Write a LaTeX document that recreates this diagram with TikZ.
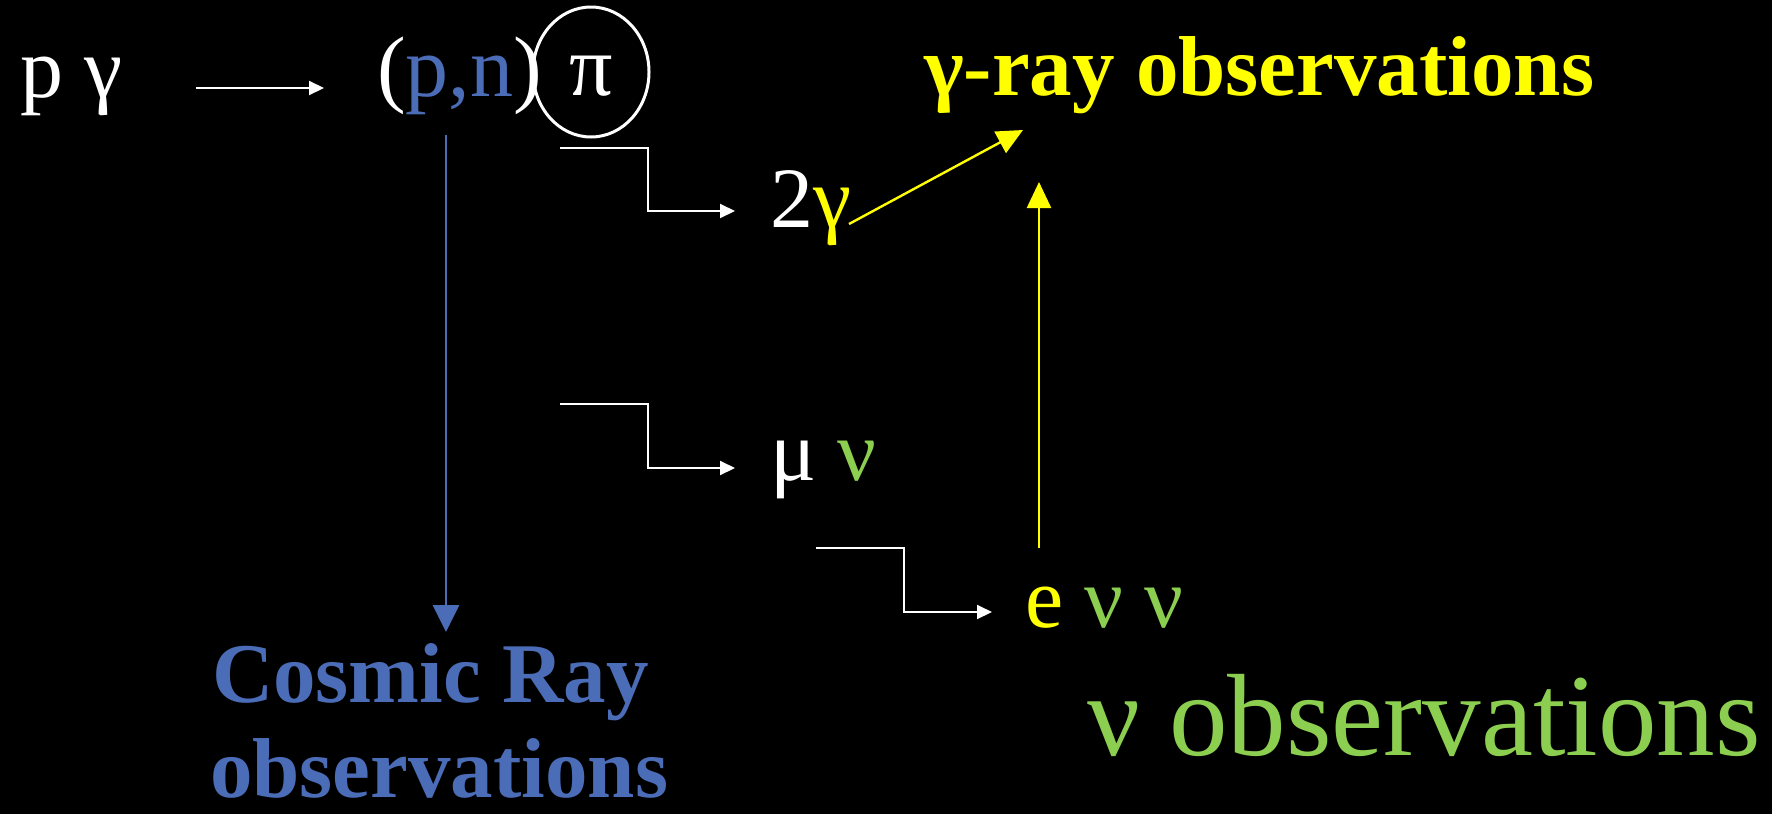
\documentclass[tikz,border=0pt]{standalone}
\usepackage{fontspec}
\setmainfont{Liberation Serif}
\usetikzlibrary{arrows.meta,shapes.geometric}
\definecolor{cblue}{HTML}{4B6CB7}
\definecolor{cgreen}{HTML}{8CCF50}
\definecolor{cyellow}{HTML}{FFFF00}
\begin{document}
\begin{tikzpicture}[x=0.5pt,y=-0.5pt,
  txt/.style={inner sep=0pt,outer sep=0pt,anchor=base west,text=white,font=\fontsize{43}{50}\selectfont},
  boldtxt/.style={inner sep=0pt,outer sep=0pt,anchor=base west,font=\bfseries\fontsize{42.5}{50}\selectfont},
  warr/.style={draw=white,line width=1pt,-{Triangle[length=7.5pt,width=7pt]}},
  barr/.style={draw=cblue,line width=1.4pt,-{Triangle[length=13.5pt,width=13pt]}},
  yarr/.style={draw=cyellow,line width=1.2pt,-{Triangle[length=13pt,width=12pt]}}]
\useasboundingbox (0,0) rectangle (1772,814);
\fill[black] (0,0) rectangle (1772,814);
% texts
\node[txt] (pg) at (20,97) {p γ};
\node[txt] (pn) at (377,96) {(\textcolor{cblue}{p,n})};
\node[ellipse,draw=white,line width=1.5pt,minimum width=58pt,minimum height=65pt,inner sep=0pt,text=white,font=\fontsize{43}{50}\selectfont] (pi) at (591,72) {\raisebox{0pt}[23pt][0pt]{π}};
\node[boldtxt,text=cyellow] (gro) at (924,95) {γ-ray observations};
\node[txt] (tg) at (770,227) {2\textcolor{cyellow}{γ}};
\node[txt] (mn) at (770,480) {μ \textcolor{cgreen}{ν}};
\node[txt,text=cyellow] (enn) at (1025,627) {e \textcolor{cgreen}{ν ν}};
\node[boldtxt,text=cblue] (cr1) at (212,702) {Cosmic Ray};
\node[boldtxt,text=cblue] (cr2) at (210,797) {observations};
\node[txt,text=cgreen,font=\fontsize{58.5}{66}\selectfont] (no) at (1087,755) {ν observations};
% connector end points
\coordinate (a1) at (196,88);
\coordinate (a2) at (324,88);
\coordinate (b1) at (446,135);
\coordinate (b2) at (446,632);
\coordinate (e1) at (560,148);
\coordinate (e1t) at (735,211);
\coordinate (e2) at (560,404);
\coordinate (e2t) at (735,468);
\coordinate (e3) at (816,548);
\coordinate (e3t) at (992,612);
\coordinate (d1) at (849,224);
\coordinate (d2) at (1023,130);
\coordinate (v1) at (1039,548);
\coordinate (v2) at (1039,182);
% connectors
\draw[warr] (a1) -- (a2);
\draw[barr] (b1) -- (b2);
\draw[warr] (e1) -- (648,148) |- (e1t);
\draw[warr] (e2) -- (648,404) |- (e2t);
\draw[warr] (e3) -- (904,548) |- (e3t);
\draw[yarr] (d1) -- (d2);
\draw[yarr] (v1) -- (v2);
\end{tikzpicture}
\end{document}
